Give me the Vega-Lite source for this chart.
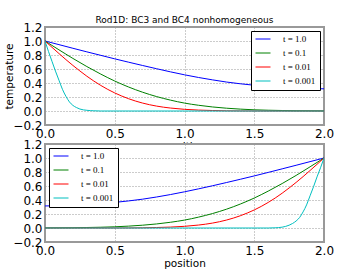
{
  "$schema": "https://vega.github.io/schema/vega-lite/v6.json",
  "padding": {"left": 3, "top": 15, "right": 5, "bottom": 0},
  "bounds": "flush",
  "spacing": 19,
  "config": {
    "font": "DejaVu Sans",
    "view": {"stroke": "#999999", "strokeWidth": 2, "fill": "white"},
    "axis": {
      "labelFont": "DejaVu Sans", "labelFontSize": 12, "labelColor": "black",
      "titleFont": "DejaVu Sans", "titleFontSize": 10.5, "titleFontWeight": "normal", "titleColor": "black",
      "domain": false, "ticks": false, "grid": true, "gridDash": [1, 2], "gridColor": "#999999",
      "labelFlush": false, "labelOverlap": false, "labelPadding": 3
    },
    "legend": {
      "labelFont": "Liberation Serif", "labelFontSize": 9, "labelColor": "black",
      "symbolType": "stroke", "symbolSize": 225, "symbolStrokeWidth": 1,
      "strokeColor": "black", "fillColor": "white", "padding": 4, "rowPadding": 5,
      "clipHeight": 8, "labelOffset": 12, "offset": 4, "cornerRadius": 0
    }
  },
  "datasets": {
    "top": [
      {"t": "t = 1.0", "x": 0, "y": 1.0}, {"t": "t = 1.0", "x": 0.1, "y": 0.948}, {"t": "t = 1.0", "x": 0.2, "y": 0.896}, {"t": "t = 1.0", "x": 0.3, "y": 0.845}, {"t": "t = 1.0", "x": 0.4, "y": 0.795}, {"t": "t = 1.0", "x": 0.5, "y": 0.745}, {"t": "t = 1.0", "x": 0.6, "y": 0.697}, {"t": "t = 1.0", "x": 0.7, "y": 0.65}, {"t": "t = 1.0", "x": 0.8, "y": 0.604}, {"t": "t = 1.0", "x": 0.9, "y": 0.559}, {"t": "t = 1.0", "x": 1.0, "y": 0.517}, {"t": "t = 1.0", "x": 1.1, "y": 0.479}, {"t": "t = 1.0", "x": 1.2, "y": 0.445}, {"t": "t = 1.0", "x": 1.3, "y": 0.414}, {"t": "t = 1.0", "x": 1.4, "y": 0.389}, {"t": "t = 1.0", "x": 1.5, "y": 0.368}, {"t": "t = 1.0", "x": 1.6, "y": 0.351}, {"t": "t = 1.0", "x": 1.7, "y": 0.337}, {"t": "t = 1.0", "x": 1.8, "y": 0.327}, {"t": "t = 1.0", "x": 1.9, "y": 0.32}, {"t": "t = 1.0", "x": 2.0, "y": 0.317},
      {"t": "t = 0.1", "x": 0, "y": 1.0}, {"t": "t = 0.1", "x": 0.05, "y": 0.937}, {"t": "t = 0.1", "x": 0.1, "y": 0.874}, {"t": "t = 0.1", "x": 0.15, "y": 0.812}, {"t": "t = 0.1", "x": 0.2, "y": 0.751}, {"t": "t = 0.1", "x": 0.3, "y": 0.635}, {"t": "t = 0.1", "x": 0.4, "y": 0.527}, {"t": "t = 0.1", "x": 0.5, "y": 0.428}, {"t": "t = 0.1", "x": 0.6, "y": 0.342}, {"t": "t = 0.1", "x": 0.7, "y": 0.268}, {"t": "t = 0.1", "x": 0.8, "y": 0.206}, {"t": "t = 0.1", "x": 0.9, "y": 0.155}, {"t": "t = 0.1", "x": 1.0, "y": 0.113}, {"t": "t = 0.1", "x": 1.1, "y": 0.082}, {"t": "t = 0.1", "x": 1.2, "y": 0.058}, {"t": "t = 0.1", "x": 1.3, "y": 0.04}, {"t": "t = 0.1", "x": 1.4, "y": 0.027}, {"t": "t = 0.1", "x": 1.5, "y": 0.017}, {"t": "t = 0.1", "x": 1.6, "y": 0.011}, {"t": "t = 0.1", "x": 1.7, "y": 0.007}, {"t": "t = 0.1", "x": 1.8, "y": 0.004}, {"t": "t = 0.1", "x": 1.9, "y": 0.003}, {"t": "t = 0.1", "x": 2.0, "y": 0.002},
      {"t": "t = 0.01", "x": 0, "y": 1.0}, {"t": "t = 0.01", "x": 0.05, "y": 0.91}, {"t": "t = 0.01", "x": 0.1, "y": 0.821}, {"t": "t = 0.01", "x": 0.15, "y": 0.734}, {"t": "t = 0.01", "x": 0.2, "y": 0.651}, {"t": "t = 0.01", "x": 0.25, "y": 0.572}, {"t": "t = 0.01", "x": 0.3, "y": 0.497}, {"t": "t = 0.01", "x": 0.35, "y": 0.428}, {"t": "t = 0.01", "x": 0.4, "y": 0.365}, {"t": "t = 0.01", "x": 0.5, "y": 0.258}, {"t": "t = 0.01", "x": 0.6, "y": 0.175}, {"t": "t = 0.01", "x": 0.7, "y": 0.113}, {"t": "t = 0.01", "x": 0.8, "y": 0.07}, {"t": "t = 0.01", "x": 0.9, "y": 0.042}, {"t": "t = 0.01", "x": 1.0, "y": 0.024}, {"t": "t = 0.01", "x": 1.1, "y": 0.013}, {"t": "t = 0.01", "x": 1.2, "y": 0.007}, {"t": "t = 0.01", "x": 1.3, "y": 0.003}, {"t": "t = 0.01", "x": 1.4, "y": 0.001}, {"t": "t = 0.01", "x": 1.6, "y": 0}, {"t": "t = 0.01", "x": 2.0, "y": 0},
      {"t": "t = 0.001", "x": 0, "y": 1.0}, {"t": "t = 0.001", "x": 0.025, "y": 0.85}, {"t": "t = 0.001", "x": 0.05, "y": 0.71}, {"t": "t = 0.001", "x": 0.075, "y": 0.57}, {"t": "t = 0.001", "x": 0.1, "y": 0.44}, {"t": "t = 0.001", "x": 0.125, "y": 0.31}, {"t": "t = 0.001", "x": 0.15, "y": 0.21}, {"t": "t = 0.001", "x": 0.175, "y": 0.13}, {"t": "t = 0.001", "x": 0.2, "y": 0.08}, {"t": "t = 0.001", "x": 0.225, "y": 0.05}, {"t": "t = 0.001", "x": 0.25, "y": 0.028}, {"t": "t = 0.001", "x": 0.3, "y": 0.01}, {"t": "t = 0.001", "x": 0.35, "y": 0.003}, {"t": "t = 0.001", "x": 0.4, "y": 0}, {"t": "t = 0.001", "x": 1.0, "y": 0}, {"t": "t = 0.001", "x": 2.0, "y": 0}
    ],
    "bottom": [
      {"t": "t = 1.0", "x": 0, "y": 0.315}, {"t": "t = 1.0", "x": 0.1, "y": 0.318}, {"t": "t = 1.0", "x": 0.2, "y": 0.325}, {"t": "t = 1.0", "x": 0.3, "y": 0.335}, {"t": "t = 1.0", "x": 0.4, "y": 0.349}, {"t": "t = 1.0", "x": 0.5, "y": 0.366}, {"t": "t = 1.0", "x": 0.6, "y": 0.387}, {"t": "t = 1.0", "x": 0.7, "y": 0.412}, {"t": "t = 1.0", "x": 0.8, "y": 0.443}, {"t": "t = 1.0", "x": 0.9, "y": 0.478}, {"t": "t = 1.0", "x": 1.0, "y": 0.517}, {"t": "t = 1.0", "x": 1.1, "y": 0.559}, {"t": "t = 1.0", "x": 1.2, "y": 0.603}, {"t": "t = 1.0", "x": 1.3, "y": 0.649}, {"t": "t = 1.0", "x": 1.4, "y": 0.696}, {"t": "t = 1.0", "x": 1.5, "y": 0.744}, {"t": "t = 1.0", "x": 1.6, "y": 0.794}, {"t": "t = 1.0", "x": 1.7, "y": 0.845}, {"t": "t = 1.0", "x": 1.8, "y": 0.896}, {"t": "t = 1.0", "x": 1.9, "y": 0.948}, {"t": "t = 1.0", "x": 2.0, "y": 1.0},
      {"t": "t = 0.1", "x": 0, "y": 0.002}, {"t": "t = 0.1", "x": 0.1, "y": 0.003}, {"t": "t = 0.1", "x": 0.2, "y": 0.004}, {"t": "t = 0.1", "x": 0.3, "y": 0.007}, {"t": "t = 0.1", "x": 0.4, "y": 0.011}, {"t": "t = 0.1", "x": 0.5, "y": 0.017}, {"t": "t = 0.1", "x": 0.6, "y": 0.027}, {"t": "t = 0.1", "x": 0.7, "y": 0.04}, {"t": "t = 0.1", "x": 0.8, "y": 0.058}, {"t": "t = 0.1", "x": 0.9, "y": 0.082}, {"t": "t = 0.1", "x": 1.0, "y": 0.113}, {"t": "t = 0.1", "x": 1.1, "y": 0.155}, {"t": "t = 0.1", "x": 1.2, "y": 0.206}, {"t": "t = 0.1", "x": 1.3, "y": 0.268}, {"t": "t = 0.1", "x": 1.4, "y": 0.342}, {"t": "t = 0.1", "x": 1.5, "y": 0.428}, {"t": "t = 0.1", "x": 1.6, "y": 0.527}, {"t": "t = 0.1", "x": 1.7, "y": 0.635}, {"t": "t = 0.1", "x": 1.8, "y": 0.751}, {"t": "t = 0.1", "x": 1.85, "y": 0.812}, {"t": "t = 0.1", "x": 1.9, "y": 0.874}, {"t": "t = 0.1", "x": 1.95, "y": 0.937}, {"t": "t = 0.1", "x": 2.0, "y": 1.0},
      {"t": "t = 0.01", "x": 0, "y": 0}, {"t": "t = 0.01", "x": 0.4, "y": 0}, {"t": "t = 0.01", "x": 0.6, "y": 0.001}, {"t": "t = 0.01", "x": 0.7, "y": 0.003}, {"t": "t = 0.01", "x": 0.8, "y": 0.007}, {"t": "t = 0.01", "x": 0.9, "y": 0.013}, {"t": "t = 0.01", "x": 1.0, "y": 0.024}, {"t": "t = 0.01", "x": 1.1, "y": 0.042}, {"t": "t = 0.01", "x": 1.2, "y": 0.07}, {"t": "t = 0.01", "x": 1.3, "y": 0.113}, {"t": "t = 0.01", "x": 1.4, "y": 0.175}, {"t": "t = 0.01", "x": 1.5, "y": 0.258}, {"t": "t = 0.01", "x": 1.6, "y": 0.365}, {"t": "t = 0.01", "x": 1.65, "y": 0.428}, {"t": "t = 0.01", "x": 1.7, "y": 0.497}, {"t": "t = 0.01", "x": 1.75, "y": 0.572}, {"t": "t = 0.01", "x": 1.8, "y": 0.651}, {"t": "t = 0.01", "x": 1.85, "y": 0.734}, {"t": "t = 0.01", "x": 1.9, "y": 0.821}, {"t": "t = 0.01", "x": 1.95, "y": 0.91}, {"t": "t = 0.01", "x": 2.0, "y": 1.0},
      {"t": "t = 0.001", "x": 0, "y": 0}, {"t": "t = 0.001", "x": 1.0, "y": 0}, {"t": "t = 0.001", "x": 1.6, "y": 0}, {"t": "t = 0.001", "x": 1.65, "y": 0.003}, {"t": "t = 0.001", "x": 1.7, "y": 0.012}, {"t": "t = 0.001", "x": 1.75, "y": 0.04}, {"t": "t = 0.001", "x": 1.775, "y": 0.065}, {"t": "t = 0.001", "x": 1.8, "y": 0.1}, {"t": "t = 0.001", "x": 1.825, "y": 0.15}, {"t": "t = 0.001", "x": 1.85, "y": 0.23}, {"t": "t = 0.001", "x": 1.875, "y": 0.33}, {"t": "t = 0.001", "x": 1.9, "y": 0.46}, {"t": "t = 0.001", "x": 1.925, "y": 0.59}, {"t": "t = 0.001", "x": 1.95, "y": 0.73}, {"t": "t = 0.001", "x": 1.975, "y": 0.86}, {"t": "t = 0.001", "x": 2.0, "y": 1.0}
    ]
  },
  "vconcat": [
    {
      "width": 279, "height": 98,
      "title": {"text": "Rod1D: BC3 and BC4 nonhomogeneous", "fontSize": 9, "font": "DejaVu Sans", "fontWeight": "normal", "color": "black", "anchor": "middle", "frame": "group", "offset": -4},
      "data": {"name": "top"},
      "mark": {"type": "line", "strokeWidth": 1, "interpolate": "monotone", "clip": true},
      "encoding": {
        "x": {"field": "x", "type": "quantitative", "scale": {"domain": [0, 2], "nice": false},
              "axis": {"title": "position", "values": [0, 0.5, 1, 1.5, 2], "format": ".1f", "titlePadding": 2}},
        "y": {"field": "y", "type": "quantitative", "scale": {"domain": [-0.2, 1.2], "nice": false, "zero": false},
              "axis": {"title": "temperature", "values": [-0.2, 0, 0.2, 0.4, 0.6, 0.8, 1.0, 1.2], "format": ".1f", "titlePadding": -2}},
        "color": {"field": "t", "type": "nominal",
                  "scale": {"domain": ["t = 1.0", "t = 0.1", "t = 0.01", "t = 0.001"], "range": ["#0000ff", "#008000", "#ff0000", "#00bfbf"]},
                  "legend": {"title": null, "orient": "top-right"}}
      }
    },
    {
      "width": 279, "height": 98,
      "data": {"name": "bottom"},
      "mark": {"type": "line", "strokeWidth": 1, "interpolate": "monotone", "clip": true},
      "encoding": {
        "x": {"field": "x", "type": "quantitative", "scale": {"domain": [0, 2], "nice": false},
              "axis": {"title": "position", "values": [0, 0.5, 1, 1.5, 2], "format": ".1f", "titlePadding": 2}},
        "y": {"field": "y", "type": "quantitative", "scale": {"domain": [-0.2, 1.2], "nice": false, "zero": false},
              "axis": {"title": null, "values": [-0.2, 0, 0.2, 0.4, 0.6, 0.8, 1.0, 1.2], "format": ".1f"}},
        "color": {"field": "t", "type": "nominal",
                  "scale": {"domain": ["t = 1.0", "t = 0.1", "t = 0.01", "t = 0.001"], "range": ["#0000ff", "#008000", "#ff0000", "#00bfbf"]},
                  "legend": {"title": null, "orient": "top-left"}}
      }
    }
  ],
  "resolve": {"scale": {"color": "independent"}, "legend": {"color": "independent"}}
}
